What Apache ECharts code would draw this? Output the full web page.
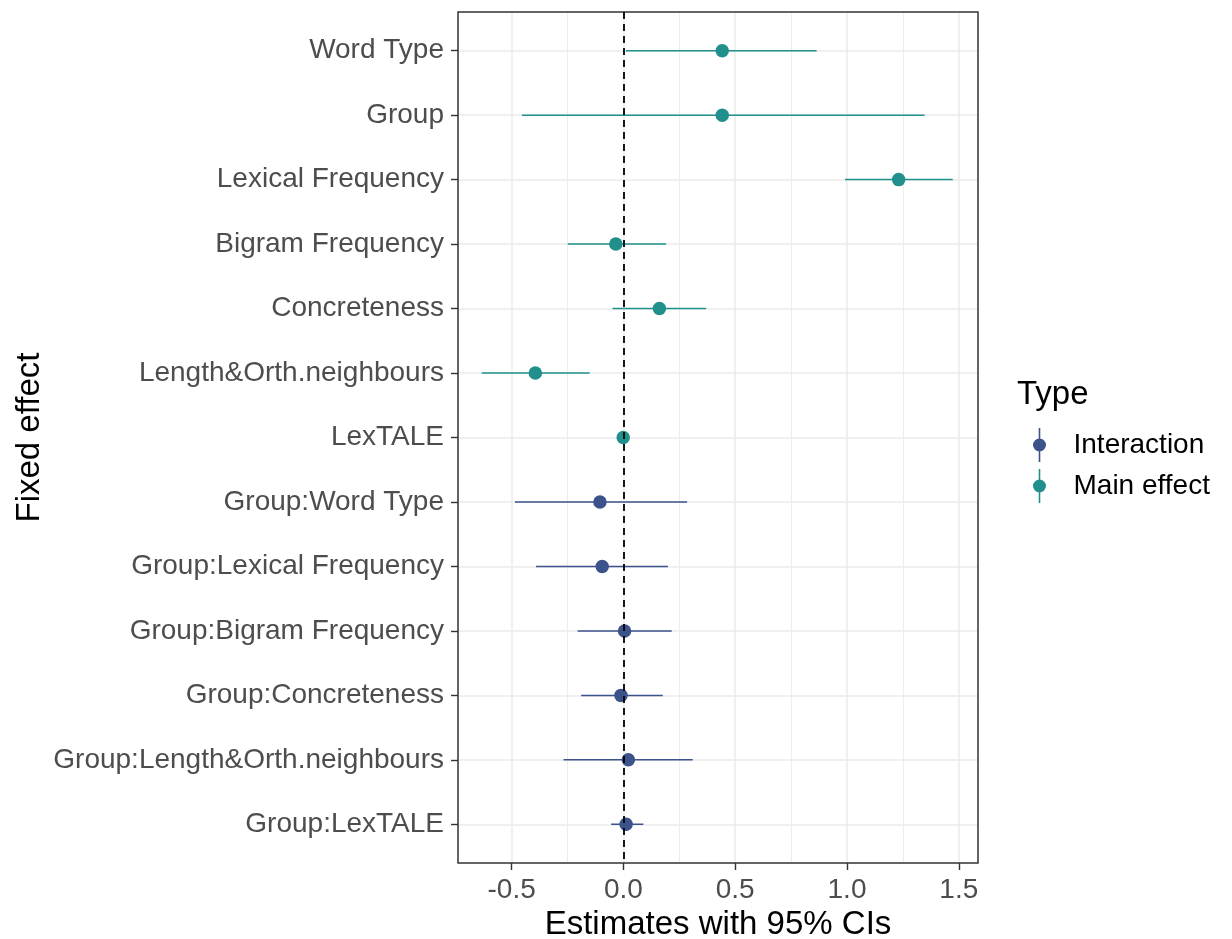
<!DOCTYPE html>
<html>
<head>
<meta charset="utf-8">
<script src="https://cdn.jsdelivr.net/npm/echarts@6/dist/echarts.min.js"></script>
<style>
html,body{margin:0;padding:0;background:#fff;}
#chart{width:1232px;height:939px;}
</style>
</head>
<body>
<div id="chart"></div>
<script>
// ---- data (top to bottom) ----
var categories = ['Word Type','Group','Lexical Frequency','Bigram Frequency','Concreteness','Length&Orth.neighbours','LexTALE','Group:Word Type','Group:Lexical Frequency','Group:Bigram Frequency','Group:Concreteness','Group:Length&Orth.neighbours','Group:LexTALE'];
var effectType = ['Main effect','Main effect','Main effect','Main effect','Main effect','Main effect','Main effect','Interaction','Interaction','Interaction','Interaction','Interaction','Interaction'];
var estimates = [0.442, 0.442, 1.231, -0.034, 0.161, -0.394, -0.001, -0.105, -0.095, 0.005, -0.011, 0.022, 0.012];
var lower =     [0.011, -0.454, 0.991, -0.249, -0.049, -0.634, -0.016, -0.485, -0.391, -0.205, -0.189, -0.268, -0.055];
var upper =     [0.864, 1.347, 1.473, 0.191, 0.370, -0.151, 0.014, 0.285, 0.199, 0.216, 0.176, 0.310, 0.089];
var xMajorTicks = [-0.5, 0, 0.5, 1, 1.5];
var xMinorTicks = [-0.25, 0.25, 0.75, 1.25];
var typeNames = ['Interaction', 'Main effect'];

var colors = {'Interaction': '#3B528B', 'Main effect': '#21908C'};
var FONT = "'Liberation Sans', Arial, sans-serif";
var rowPos = categories.map(function(c, i){ return i + 1; });

function pointsFor(t){
  var out = [];
  categories.forEach(function(c, i){ if (effectType[i] === t) out.push([estimates[i], rowPos[i]]); });
  return out;
}
function barsFor(t){
  var out = [];
  categories.forEach(function(c, i){ if (effectType[i] === t) out.push([lower[i], upper[i], rowPos[i]]); });
  return out;
}
function renderBar(params, api){
  var p1 = api.coord([api.value(0), api.value(2)]);
  var p2 = api.coord([api.value(1), api.value(2)]);
  return {type:'line', shape:{x1:p1[0], y1:p1[1], x2:p2[0], y2:p2[1]},
          style:{stroke: api.visual('color'), lineWidth:1.5}};
}

var iconPath = 'path://M6.2,0L7.8,0L7.8,34L6.2,34Z M13.5,17A6.5,6.5 0 1,1 0.5,17A6.5,6.5 0 1,1 13.5,17Z';

var series = [];
typeNames.forEach(function(t){
  series.push({
    type:'custom', name:t, renderItem: renderBar, data: barsFor(t),
    encode:{x:[0,1], y:2}, itemStyle:{color:colors[t]}, z:2, silent:true
  });
  series.push({
    type:'scatter', name:t, data: pointsFor(t), symbol:'circle', symbolSize:13.5,
    itemStyle:{color:colors[t], opacity:1}, z:3, silent:true
  });
});
series.push({
  type:'scatter', name:'zero', data:[], z:10, silent:true,
  markLine:{silent:true, symbol:['none','none'], animation:false, label:{show:false},
    lineStyle:{color:'#000', type:[7,5], width:1.8},
    data:[{xAxis:0}]}
});

var chart = echarts.init(document.getElementById('chart'), null, {renderer:'canvas'});
chart.setOption({
  animation:false,
  backgroundColor:'#ffffff',
  textStyle:{fontFamily:FONT},
  grid:{left:458, right:254, top:12, bottom:76, outerBoundsMode:'none', containLabel:false,
        show:true, borderColor:'#333333', borderWidth:1.5, backgroundColor:'transparent', z:4},
  xAxis:[{
    type:'value', min:-0.74, max:1.586,
    name:'Estimates with 95% CIs', nameLocation:'middle', nameGap:45,
    nameTextStyle:{fontSize:33, color:'#000', fontFamily:FONT},
    axisLine:{show:false, onZero:false},
    axisTick:{show:true, customValues:xMajorTicks, length:7, lineStyle:{color:'#333333', width:1.4}},
    axisLabel:{customValues:xMajorTicks, fontSize:28, color:'#4D4D4D', margin:13, fontFamily:FONT,
      formatter:function(v){ return v.toFixed(1); }},
    splitLine:{show:true, lineStyle:{color:'#EBEBEB', width:1.5}}
  },{
    type:'value', min:-0.74, max:1.586, position:'bottom',
    axisLine:{show:false, onZero:false}, axisTick:{show:false, customValues:xMinorTicks},
    axisLabel:{show:false, customValues:xMinorTicks},
    splitLine:{show:true, lineStyle:{color:'#EBEBEB', width:0.9}}
  }],
  yAxis:{
    type:'value', min:0.4, max:13.6, inverse:true,
    name:'Fixed effect', nameLocation:'middle', nameGap:412, nameRotate:90,
    nameTextStyle:{fontSize:33, color:'#000', fontFamily:FONT},
    axisLine:{show:false, onZero:false},
    axisTick:{show:true, customValues:rowPos, length:7, lineStyle:{color:'#333333', width:1.4}},
    axisLabel:{customValues:rowPos, fontSize:28, color:'#4D4D4D', margin:14, fontFamily:FONT,
      formatter:function(v){ return categories[Math.round(v)-1] || ''; }},
    splitLine:{show:true, lineStyle:{color:'#EBEBEB', width:1.5}}
  },
  legend:{
    orient:'vertical', left:1028, top:423, itemWidth:14, itemHeight:34, itemGap:7,
    selectedMode:false,
    textStyle:{fontSize:28, color:'#000', fontFamily:FONT, padding:[0,0,0,22]},
    data:typeNames.map(function(t){ return {name:t, icon:iconPath}; })
  },
  graphic:[{
    type:'text', left:1017, top:378,
    style:{text:'Type', fontSize:33, fill:'#000', font:'33px ' + FONT}
  }],
  series:series
});
</script>
</body>
</html>
